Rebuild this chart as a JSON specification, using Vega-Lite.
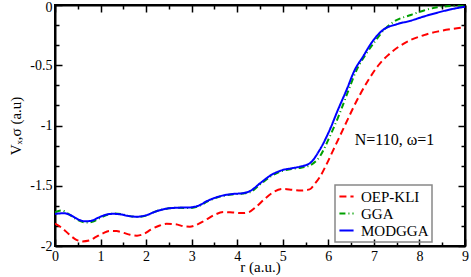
{
  "$schema": "https://vega.github.io/schema/vega-lite/v6.json",
  "width": 410,
  "height": 241,
  "autosize": "none",
  "padding": {"left": 55, "top": 5, "right": 6, "bottom": 31},
  "config": {
    "font": "Liberation Serif",
    "view": {"stroke": "black", "strokeWidth": 2},
    "axis": {
      "grid": false,
      "domainColor": "black",
      "domainWidth": 2,
      "tickColor": "black",
      "tickWidth": 1.5,
      "labelFont": "Liberation Serif",
      "labelFontSize": 14,
      "labelColor": "black",
      "titleFont": "Liberation Serif",
      "titleFontSize": 15,
      "titleFontWeight": "normal",
      "titleColor": "black"
    },
    "legend": {
      "orient": "none",
      "legendX": 280,
      "legendY": 180,
      "strokeColor": "#888888",
      "strokeWidth": 1.5,
      "padding": 3,
      "rowPadding": 0,
      "labelFont": "Liberation Serif",
      "labelFontSize": 15,
      "labelColor": "black",
      "labelOffset": 6,
      "symbolType": "stroke",
      "symbolStrokeWidth": 2,
      "symbolSize": 200
    }
  },
  "datasets": {
    "curves": [
      {"series": "OEP-KLI", "r": 0.0, "v": -1.815},
      {"series": "OEP-KLI", "r": 0.15, "v": -1.85},
      {"series": "OEP-KLI", "r": 0.3, "v": -1.9},
      {"series": "OEP-KLI", "r": 0.45, "v": -1.945},
      {"series": "OEP-KLI", "r": 0.6, "v": -1.962},
      {"series": "OEP-KLI", "r": 0.75, "v": -1.955},
      {"series": "OEP-KLI", "r": 0.9, "v": -1.925},
      {"series": "OEP-KLI", "r": 1.05, "v": -1.895},
      {"series": "OEP-KLI", "r": 1.2, "v": -1.875},
      {"series": "OEP-KLI", "r": 1.35, "v": -1.876},
      {"series": "OEP-KLI", "r": 1.5, "v": -1.89},
      {"series": "OEP-KLI", "r": 1.65, "v": -1.907},
      {"series": "OEP-KLI", "r": 1.8, "v": -1.914},
      {"series": "OEP-KLI", "r": 1.95, "v": -1.9},
      {"series": "OEP-KLI", "r": 2.1, "v": -1.865},
      {"series": "OEP-KLI", "r": 2.3, "v": -1.83},
      {"series": "OEP-KLI", "r": 2.45, "v": -1.815},
      {"series": "OEP-KLI", "r": 2.65, "v": -1.82},
      {"series": "OEP-KLI", "r": 2.85, "v": -1.838},
      {"series": "OEP-KLI", "r": 2.96, "v": -1.84},
      {"series": "OEP-KLI", "r": 3.1, "v": -1.825},
      {"series": "OEP-KLI", "r": 3.3, "v": -1.785},
      {"series": "OEP-KLI", "r": 3.5, "v": -1.742},
      {"series": "OEP-KLI", "r": 3.7, "v": -1.718},
      {"series": "OEP-KLI", "r": 3.9, "v": -1.722},
      {"series": "OEP-KLI", "r": 4.1, "v": -1.727},
      {"series": "OEP-KLI", "r": 4.25, "v": -1.72},
      {"series": "OEP-KLI", "r": 4.4, "v": -1.68},
      {"series": "OEP-KLI", "r": 4.6, "v": -1.61},
      {"series": "OEP-KLI", "r": 4.8, "v": -1.552},
      {"series": "OEP-KLI", "r": 5.0, "v": -1.527},
      {"series": "OEP-KLI", "r": 5.2, "v": -1.533},
      {"series": "OEP-KLI", "r": 5.4, "v": -1.54},
      {"series": "OEP-KLI", "r": 5.59, "v": -1.53},
      {"series": "OEP-KLI", "r": 5.7, "v": -1.485},
      {"series": "OEP-KLI", "r": 5.81, "v": -1.43},
      {"series": "OEP-KLI", "r": 5.95, "v": -1.33},
      {"series": "OEP-KLI", "r": 6.1, "v": -1.21},
      {"series": "OEP-KLI", "r": 6.25, "v": -1.09},
      {"series": "OEP-KLI", "r": 6.4, "v": -0.97},
      {"series": "OEP-KLI", "r": 6.55, "v": -0.85},
      {"series": "OEP-KLI", "r": 6.7, "v": -0.74},
      {"series": "OEP-KLI", "r": 6.9, "v": -0.61},
      {"series": "OEP-KLI", "r": 7.1, "v": -0.5},
      {"series": "OEP-KLI", "r": 7.3, "v": -0.42},
      {"series": "OEP-KLI", "r": 7.55, "v": -0.345},
      {"series": "OEP-KLI", "r": 7.81, "v": -0.29},
      {"series": "OEP-KLI", "r": 8.1, "v": -0.25},
      {"series": "OEP-KLI", "r": 8.39, "v": -0.221},
      {"series": "OEP-KLI", "r": 8.7, "v": -0.2},
      {"series": "OEP-KLI", "r": 9.0, "v": -0.185},
      {"series": "GGA", "r": 0.0, "v": -1.72},
      {"series": "GGA", "r": 0.15, "v": -1.705},
      {"series": "GGA", "r": 0.3, "v": -1.735},
      {"series": "GGA", "r": 0.5, "v": -1.785},
      {"series": "GGA", "r": 0.7, "v": -1.805},
      {"series": "GGA", "r": 0.85, "v": -1.795},
      {"series": "GGA", "r": 1.0, "v": -1.765},
      {"series": "GGA", "r": 1.15, "v": -1.74},
      {"series": "GGA", "r": 1.3, "v": -1.73},
      {"series": "GGA", "r": 1.45, "v": -1.735},
      {"series": "GGA", "r": 1.6, "v": -1.75},
      {"series": "GGA", "r": 1.8, "v": -1.76},
      {"series": "GGA", "r": 2.0, "v": -1.748},
      {"series": "GGA", "r": 2.2, "v": -1.715},
      {"series": "GGA", "r": 2.45, "v": -1.69},
      {"series": "GGA", "r": 2.7, "v": -1.683},
      {"series": "GGA", "r": 2.96, "v": -1.685},
      {"series": "GGA", "r": 3.15, "v": -1.67},
      {"series": "GGA", "r": 3.35, "v": -1.63},
      {"series": "GGA", "r": 3.62, "v": -1.59},
      {"series": "GGA", "r": 3.9, "v": -1.572},
      {"series": "GGA", "r": 4.12, "v": -1.565},
      {"series": "GGA", "r": 4.3, "v": -1.55},
      {"series": "GGA", "r": 4.5, "v": -1.49},
      {"series": "GGA", "r": 4.75, "v": -1.42},
      {"series": "GGA", "r": 5.0, "v": -1.375},
      {"series": "GGA", "r": 5.2, "v": -1.36},
      {"series": "GGA", "r": 5.4, "v": -1.35},
      {"series": "GGA", "r": 5.6, "v": -1.33},
      {"series": "GGA", "r": 5.81, "v": -1.259},
      {"series": "GGA", "r": 6.03, "v": -1.093},
      {"series": "GGA", "r": 6.25, "v": -0.899},
      {"series": "GGA", "r": 6.43, "v": -0.72},
      {"series": "GGA", "r": 6.62, "v": -0.539},
      {"series": "GGA", "r": 6.84, "v": -0.4},
      {"series": "GGA", "r": 7.02, "v": -0.304},
      {"series": "GGA", "r": 7.24, "v": -0.2},
      {"series": "GGA", "r": 7.44, "v": -0.138},
      {"series": "GGA", "r": 7.81, "v": -0.083},
      {"series": "GGA", "r": 8.1, "v": -0.045},
      {"series": "GGA", "r": 8.39, "v": -0.019},
      {"series": "GGA", "r": 8.83, "v": -0.005},
      {"series": "GGA", "r": 9.0, "v": 0.0},
      {"series": "MODGGA", "r": 0.0, "v": -1.734},
      {"series": "MODGGA", "r": 0.2, "v": -1.728},
      {"series": "MODGGA", "r": 0.35, "v": -1.745},
      {"series": "MODGGA", "r": 0.5, "v": -1.778},
      {"series": "MODGGA", "r": 0.66, "v": -1.795},
      {"series": "MODGGA", "r": 0.8, "v": -1.79},
      {"series": "MODGGA", "r": 0.95, "v": -1.765},
      {"series": "MODGGA", "r": 1.1, "v": -1.742},
      {"series": "MODGGA", "r": 1.27, "v": -1.733},
      {"series": "MODGGA", "r": 1.45, "v": -1.738},
      {"series": "MODGGA", "r": 1.6, "v": -1.75},
      {"series": "MODGGA", "r": 1.8, "v": -1.757},
      {"series": "MODGGA", "r": 2.0, "v": -1.745},
      {"series": "MODGGA", "r": 2.2, "v": -1.715},
      {"series": "MODGGA", "r": 2.45, "v": -1.69},
      {"series": "MODGGA", "r": 2.7, "v": -1.682},
      {"series": "MODGGA", "r": 2.96, "v": -1.68},
      {"series": "MODGGA", "r": 3.15, "v": -1.665},
      {"series": "MODGGA", "r": 3.35, "v": -1.625},
      {"series": "MODGGA", "r": 3.62, "v": -1.587},
      {"series": "MODGGA", "r": 3.9, "v": -1.568},
      {"series": "MODGGA", "r": 4.12, "v": -1.562},
      {"series": "MODGGA", "r": 4.3, "v": -1.54},
      {"series": "MODGGA", "r": 4.5, "v": -1.48},
      {"series": "MODGGA", "r": 4.75, "v": -1.41},
      {"series": "MODGGA", "r": 5.0, "v": -1.369},
      {"series": "MODGGA", "r": 5.2, "v": -1.355},
      {"series": "MODGGA", "r": 5.37, "v": -1.342},
      {"series": "MODGGA", "r": 5.59, "v": -1.314},
      {"series": "MODGGA", "r": 5.81, "v": -1.203},
      {"series": "MODGGA", "r": 6.03, "v": -1.037},
      {"series": "MODGGA", "r": 6.21, "v": -0.871},
      {"series": "MODGGA", "r": 6.4, "v": -0.705},
      {"series": "MODGGA", "r": 6.58, "v": -0.539},
      {"series": "MODGGA", "r": 6.76, "v": -0.429},
      {"series": "MODGGA", "r": 6.94, "v": -0.318},
      {"series": "MODGGA", "r": 7.05, "v": -0.263},
      {"series": "MODGGA", "r": 7.2, "v": -0.207},
      {"series": "MODGGA", "r": 7.5, "v": -0.16},
      {"series": "MODGGA", "r": 7.81, "v": -0.13},
      {"series": "MODGGA", "r": 8.1, "v": -0.095},
      {"series": "MODGGA", "r": 8.39, "v": -0.064},
      {"series": "MODGGA", "r": 8.7, "v": -0.035},
      {"series": "MODGGA", "r": 9.0, "v": -0.014}
    ],
    "note": [{"r": 6.58, "v": -1.12, "label": "N=110, ω=1"}]
  },
  "layer": [
    {
      "data": {"name": "curves"},
      "mark": {"type": "line", "interpolate": "monotone", "strokeWidth": 2, "clip": true},
      "encoding": {
        "x": {
          "field": "r", "type": "quantitative",
          "scale": {"domain": [0, 9], "nice": false, "zero": false},
          "axis": {
            "title": "r (a.u.)",
            "titlePadding": -4,
            "values": [0, 0.5, 1, 1.5, 2, 2.5, 3, 3.5, 4, 4.5, 5, 5.5, 6, 6.5, 7, 7.5, 8, 8.5, 9],
            "labelExpr": "datum.value % 1 === 0 ? '' + datum.value : ''",
            "tickSize": {"condition": {"test": "datum.value % 1 === 0", "value": -7}, "value": -4},
            "labelPadding": 10,
            "labelFlush": false
          }
        },
        "y": {
          "field": "v", "type": "quantitative",
          "scale": {"domain": [-2, 0], "nice": false, "zero": false},
          "axis": {
            "title": "Vₓ,σ (a.u)",
            "titlePadding": 6,
            "values": [-2, -1.8333333, -1.6666667, -1.5, -1.3333333, -1.1666667, -1, -0.8333333, -0.6666667, -0.5, -0.3333333, -0.1666667, 0],
            "labelExpr": "abs(datum.value * 2 - round(datum.value * 2)) < 0.001 ? '' + datum.value : ''",
            "tickSize": {"condition": {"test": "abs(datum.value * 2 - round(datum.value * 2)) < 0.001", "value": -7}, "value": -4},
            "labelOffset": {"condition": {"test": "datum.value === 0", "value": 2}, "value": 0},
            "labelPadding": 10,
            "labelFlush": false
          }
        },
        "color": {
          "field": "series", "type": "nominal",
          "scale": {"domain": ["OEP-KLI", "GGA", "MODGGA"], "range": ["#ff0000", "#00a000", "#0000ff"]},
          "legend": {"title": null}
        },
        "strokeDash": {
          "field": "series", "type": "nominal",
          "scale": {"domain": ["OEP-KLI", "GGA", "MODGGA"], "range": [[7, 4], [6, 3, 1, 3], [1, 0]]},
          "legend": {"title": null}
        }
      }
    },
    {
      "data": {"name": "curves"},
      "mark": {"type": "point", "opacity": 0},
      "encoding": {
        "x": {
          "field": "r", "type": "quantitative",
          "axis": {
            "orient": "top", "title": null, "labels": false,
            "values": [0, 0.5, 1, 1.5, 2, 2.5, 3, 3.5, 4, 4.5, 5, 5.5, 6, 6.5, 7, 7.5, 8, 8.5, 9],
            "tickSize": {"condition": {"test": "datum.value % 1 === 0", "value": -7}, "value": -4}
          }
        },
        "y": {
          "field": "v", "type": "quantitative",
          "axis": {
            "orient": "right", "title": null, "labels": false,
            "values": [-2, -1.8333333, -1.6666667, -1.5, -1.3333333, -1.1666667, -1, -0.8333333, -0.6666667, -0.5, -0.3333333, -0.1666667, 0],
            "tickSize": {"condition": {"test": "abs(datum.value * 2 - round(datum.value * 2)) < 0.001", "value": -7}, "value": -4}
          }
        }
      }
    },
    {
      "data": {"name": "note"},
      "mark": {"type": "text", "align": "left", "baseline": "middle", "fontSize": 16, "font": "Liberation Serif", "color": "black"},
      "encoding": {
        "x": {"field": "r", "type": "quantitative", "axis": null},
        "y": {"field": "v", "type": "quantitative", "axis": null},
        "text": {"field": "label"}
      }
    }
  ],
  "resolve": {"axis": {"x": "independent", "y": "independent"}}
}
